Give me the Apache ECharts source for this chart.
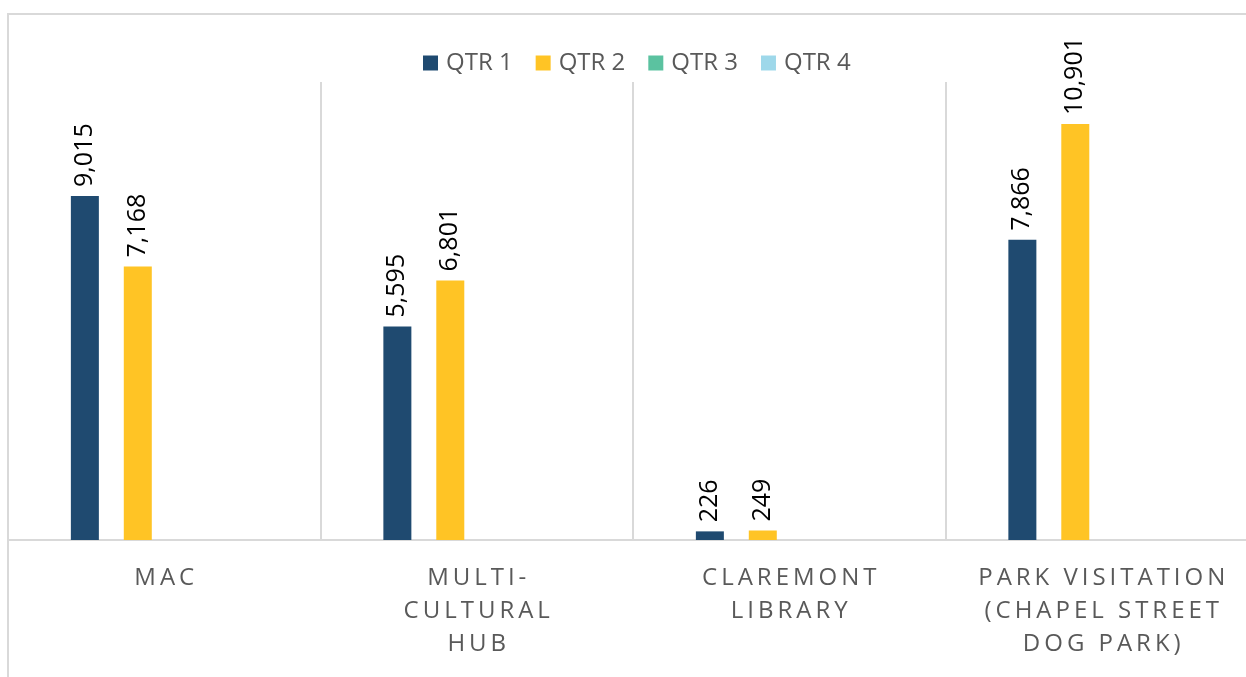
<!DOCTYPE html>
<html>
<head>
<meta charset="utf-8">
<script src="https://cdn.jsdelivr.net/npm/echarts@6/dist/echarts.min.js"></script>
<style>html,body{margin:0;padding:0;background:#fff;overflow:hidden;}#c{width:1258px;height:677px;}</style>
</head>
<body>
<div id="c"></div>
<script>
const categories = ["MAC", "MULTI-\nCULTURAL\nHUB", "CLAREMONT\nLIBRARY", "PARK VISITATION\n(CHAPEL STREET\nDOG PARK)"];
const seriesNames = ["QTR 1", "QTR 2", "QTR 3", "QTR 4"];
const qtr1 = [9015, 5595, 226, 7866];
const qtr2 = [7168, 6801, 249, 10901];
const qtr3 = [null, null, null, null];
const qtr4 = [null, null, null, null];
const colors = ["#1F4A70", "#FFC425", "#5BC2A0", "#9ED8EA"];

const spaced = s => s.split('\n').map(l => l.split('').join('\u2009')).join('\n');

const chart = echarts.init(document.getElementById('c'), null, {renderer: 'canvas'});
const mk = (name, data, i) => ({
  name, type: 'bar', data, barWidth: 28, barGap: '89%',
  itemStyle: {color: colors[i]},
  label: {show: true, position: 'top', rotate: 90, align: 'left', verticalAlign: 'middle', distance: 9,
    color: '#000', fontSize: 25, fontFamily: 'Open Sans',
    formatter: p => p.value == null ? '' : p.value.toLocaleString('en-US')}
});
chart.setOption({
  animation: false,
  graphic: [{type: 'rect', shape: {x: 8, y: 14, width: 1400, height: 800}, style: {fill: null, stroke: '#d9d9d9', lineWidth: 2}, z: 0}],
  legend: {left: 418, top: 46, itemWidth: 15, itemHeight: 15, itemGap: 23, icon: 'rect',
    textStyle: {fontSize: 24, color: '#595959', fontFamily: 'Open Sans', padding: [0, 0, 0, 3]}, data: seriesNames},
  grid: {left: 8, top: 82, right: 0, bottom: 137, containLabel: false},
  xAxis: {type: 'category', data: categories,
    axisLine: {lineStyle: {color: '#d9d9d9', width: 2}}, axisTick: {show: false},
    splitLine: {show: true, interval: 0, lineStyle: {color: '#d9d9d9', width: 2}},
    axisLabel: {interval: 0, hideOverlap: false, margin: 22, fontSize: 24, color: '#595959', lineHeight: 33, fontFamily: 'Open Sans', formatter: v => spaced(v)}},
  yAxis: {type: 'value', min: 0, max: 12000, show: false, splitLine: {show: false}},
  series: [mk(seriesNames[0], qtr1, 0), mk(seriesNames[1], qtr2, 1), mk(seriesNames[2], qtr3, 2), mk(seriesNames[3], qtr4, 3)]
});
</script>
</body>
</html>
